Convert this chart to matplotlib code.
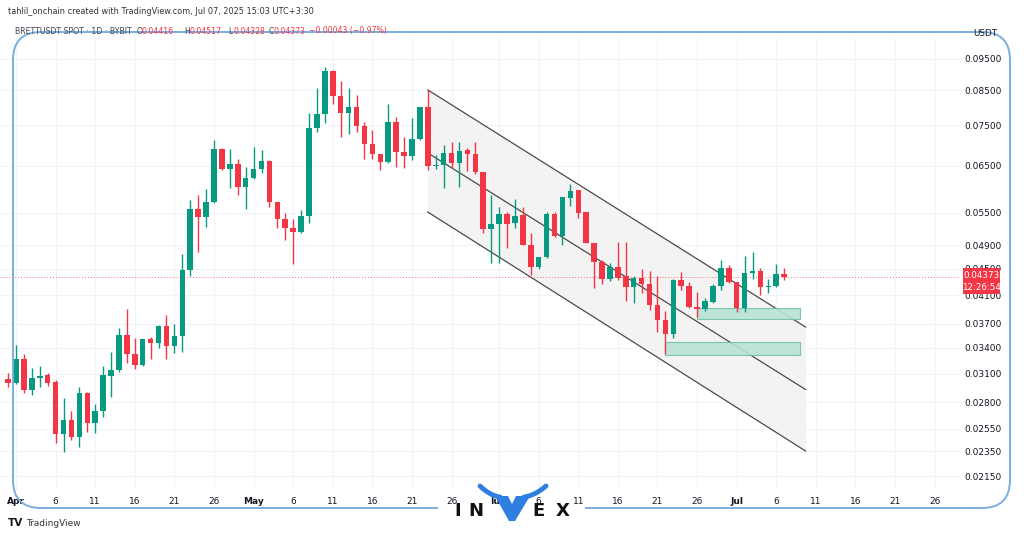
import numpy as np
import matplotlib
matplotlib.use('Agg')
import matplotlib.pyplot as plt
from matplotlib.patches import FancyBboxPatch, Rectangle, Polygon
from matplotlib.transforms import IdentityTransform

# daily candles, day 0 = Apr 1 2025, last = Jul 7
days = np.arange(-1, 98)
opens = [0.03042, 0.02999, 0.03266, 0.02926, 0.03053, 0.03086, 0.03010, 0.02501, 0.02629, 0.02474,
         0.02894, 0.02601, 0.02715, 0.03075, 0.03141, 0.03557, 0.03325, 0.03197, 0.03507, 0.03458,
         0.03673, 0.03421, 0.03545, 0.04484, 0.05571, 0.05414, 0.05711, 0.06896, 0.06422, 0.06538,
         0.06024, 0.06220, 0.06422, 0.06608, 0.05711, 0.05376, 0.05205, 0.05133, 0.05434, 0.07432,
         0.07811, 0.09103, 0.08328, 0.07839, 0.08008, 0.07486, 0.07020, 0.06775, 0.06585, 0.07593,
         0.06823, 0.06727, 0.07146, 0.08008, 0.06491, 0.06515, 0.06799, 0.06561, 0.06871, 0.06775,
         0.06354, 0.05187, 0.05281, 0.05472, 0.05300, 0.05453, 0.04901, 0.04532, 0.04696, 0.05472,
         0.05061, 0.05793, 0.05960, 0.05510, 0.04936, 0.04613, 0.04343, 0.04532, 0.04389, 0.04221,
         0.04358, 0.04266, 0.03959, 0.03753, 0.03570, 0.04327, 0.04236, 0.03931, 0.03903, 0.04002,
         0.04236, 0.04516, 0.04297, 0.03917, 0.04436, 0.04470, 0.04221, 0.04236, 0.04416]
closes = [0.02999, 0.03266, 0.02926, 0.03053, 0.03075, 0.02999, 0.02501, 0.02629, 0.02474, 0.02894,
          0.02601, 0.02715, 0.03086, 0.03141, 0.03557, 0.03325, 0.03197, 0.03507, 0.03458, 0.03673,
          0.03421, 0.03545, 0.04484, 0.05571, 0.05414, 0.05711, 0.06896, 0.06422, 0.06538, 0.06024,
          0.06220, 0.06422, 0.06608, 0.05711, 0.05376, 0.05205, 0.05133, 0.05434, 0.07432, 0.07811,
          0.09103, 0.08328, 0.07839, 0.08008, 0.07486, 0.07020, 0.06775, 0.06585, 0.07593, 0.06823,
          0.06727, 0.07146, 0.08008, 0.06491, 0.06515, 0.06799, 0.06561, 0.06847, 0.06775, 0.06354,
          0.05187, 0.05281, 0.05472, 0.05281, 0.05434, 0.04901, 0.04532, 0.04696, 0.05472, 0.05061,
          0.05813, 0.05938, 0.05491, 0.04936, 0.04613, 0.04343, 0.04532, 0.04358, 0.04221, 0.04358,
          0.04266, 0.03959, 0.03753, 0.03570, 0.04327, 0.04236, 0.03931, 0.03903, 0.04016, 0.04236,
          0.04516, 0.04297, 0.03917, 0.04436, 0.04470, 0.04221, 0.04236, 0.04420, 0.04373]
highs = [0.03108, 0.03434, 0.03325, 0.03163, 0.03186, 0.03108, 0.03031, 0.02843, 0.02715, 0.02957,
         0.02900, 0.02783, 0.03186, 0.03349, 0.03647, 0.03903, 0.03520, 0.03510, 0.03532, 0.03680,
         0.03820, 0.03700, 0.04746, 0.05752, 0.05855, 0.05981, 0.07121, 0.06920, 0.06896, 0.06655,
         0.06468, 0.06945, 0.06871, 0.06620, 0.05720, 0.05491, 0.05376, 0.05551, 0.07839, 0.08568,
         0.09234, 0.09120, 0.08784, 0.08568, 0.08357, 0.07593, 0.07380, 0.06780, 0.08094, 0.07728,
         0.07197, 0.07701, 0.08020, 0.08508, 0.06750, 0.06995, 0.07071, 0.07070, 0.06920, 0.07070,
         0.06360, 0.05855, 0.05610, 0.05510, 0.05772, 0.05610, 0.05115, 0.04700, 0.05510, 0.05510,
         0.05820, 0.06089, 0.05970, 0.05520, 0.04940, 0.04650, 0.04597, 0.04953, 0.04950, 0.04390,
         0.04500, 0.04470, 0.04389, 0.03875, 0.04340, 0.04452, 0.04300, 0.04147, 0.04060, 0.04270,
         0.04646, 0.04570, 0.04300, 0.04713, 0.04780, 0.04520, 0.04340, 0.04581, 0.04517]
lows = [0.02957, 0.02990, 0.02894, 0.02874, 0.02957, 0.02967, 0.02422, 0.02346, 0.02448, 0.02388,
        0.02519, 0.02510, 0.02657, 0.02853, 0.03119, 0.03220, 0.03152, 0.03190, 0.03266, 0.03397,
        0.03266, 0.03337, 0.03349, 0.04389, 0.04780, 0.05224, 0.05690, 0.06400, 0.06002, 0.05855,
        0.05571, 0.06200, 0.06331, 0.05610, 0.05205, 0.04989, 0.04581, 0.05115, 0.05300, 0.07330,
        0.07566, 0.08094, 0.07197, 0.07275, 0.07327, 0.06655, 0.06655, 0.06399, 0.06560, 0.06468,
        0.06445, 0.06632, 0.07130, 0.06399, 0.06420, 0.06002, 0.06445, 0.06024, 0.06377, 0.06309,
        0.05115, 0.04597, 0.04597, 0.04849, 0.05205, 0.04900, 0.04404, 0.04500, 0.04680, 0.05040,
        0.04901, 0.05631, 0.05395, 0.04930, 0.04206, 0.04266, 0.04310, 0.04327, 0.04016, 0.03987,
        0.04132, 0.03889, 0.03595, 0.03325, 0.03520, 0.04176, 0.03920, 0.03793, 0.03880, 0.03990,
        0.04176, 0.04280, 0.03861, 0.03860, 0.04340, 0.04102, 0.04130, 0.04220, 0.04328]

price_ticks = [0.095, 0.085, 0.075, 0.065, 0.055, 0.049, 0.045, 0.041, 0.037, 0.034,
               0.031, 0.028, 0.0255, 0.0235, 0.0215]
date_ticks = [0, 5, 10, 15, 20, 25, 30, 35, 40, 45, 50, 55, 61, 66, 71, 76, 81, 86,
              91, 96, 101, 106, 111, 116]
date_labels = ['Apr', '6', '11', '16', '21', '26', 'May', '6', '11', '16', '21', '26',
               'Jun', '6', '11', '16', '21', '26', 'Jul', '6', '11', '16', '21', '26']

# descending channel (start/end day, upper/mid/lower price)
chan_x = [52.0, 99.7]
chan_upper = [0.0851, 0.0366]
chan_mid = [0.0680, 0.0293]
chan_lower = [0.0551, 0.02354]
# demand zones: x0, x1, y0, y1
zones = [(86.0, 99.0, 0.03766, 0.03917), (81.9, 99.0, 0.03313, 0.03470)]
last_price = 0.04373

UP = '#089981'
DOWN = '#f23645'
W, H = 1024, 538

fig = plt.figure(figsize=(W / 100, H / 100), dpi=100)
fig.set_facecolor('white')
ax = fig.add_axes([0, 48 / H, 960 / W, 452 / H])
ax.set_yscale('log')
ax.set_xlim(-2.02, 119.2)
ax.set_ylim(0.02049, 0.10237)

# grid
for p in price_ticks:
    ax.axhline(p, color='#f0f3fa', lw=0.8, zorder=0)
for d in date_ticks:
    ax.axvline(d, color='#f0f3fa', lw=0.8, zorder=0)

# channel
ax.fill_between(chan_x, chan_upper, chan_lower, color='#f3f3f3', zorder=1, lw=0)
for line in (chan_upper, chan_mid, chan_lower):
    ax.plot(chan_x, line, color='#4a4a4a', lw=0.9, zorder=2)

for x0, x1, y0, y1 in zones:
    ax.add_patch(Rectangle((x0, y0), x1 - x0, y1 - y0, facecolor='#b9e2d4',
                           edgecolor='#6fc0a5', lw=0.8, alpha=0.9, zorder=2))

# candles
o = np.array(opens); c = np.array(closes)
hi = np.array(highs); lo = np.array(lows)
cols = np.where(c >= o, UP, DOWN)
ax.vlines(days, lo, hi, colors=cols, lw=1.0, zorder=3)
bottom = np.minimum(o, c)
height = np.maximum(np.abs(c - o), bottom * 0.004)
ax.bar(days, height, bottom=bottom, width=0.7, color=cols, zorder=4, lw=0)

# last price line
ax.axhline(last_price, color=DOWN, lw=0.7, ls=(0, (1, 2)), alpha=0.7, zorder=2)

ax.yaxis.tick_right()
ax.set_yticks(price_ticks)
ax.set_yticklabels([f'{p:.5f}' for p in price_ticks])
ax.yaxis.set_minor_locator(matplotlib.ticker.NullLocator())
ax.set_xticks(date_ticks)
ax.set_xticklabels(date_labels)
for lab, txt in zip(ax.get_xticklabels(), date_labels):
    if not txt.isdigit():
        lab.set_fontweight('bold')
ax.tick_params(axis='y', length=0, pad=3, labelsize=6.5, colors='#131722')
ax.tick_params(axis='x', length=0, pad=5, labelsize=6.5, colors='#131722')
for s in ax.spines.values():
    s.set_visible(False)


def ftext(x, y, s, **kw):
    return fig.text(x / W, 1 - y / H, s, **kw)


# header
ftext(8, 12, 'tahlil_onchain created with TradingView.com, Jul 07, 2025 15:03 UTC+3:30',
      fontsize=5.9, color='#333333', va='center')
ftext(15, 31, 'BRETTUSDT SPOT · 1D · BYBIT', fontsize=5.6, color='#434651', va='center')
for x, lab, val in [(137, 'O', '0.04416'), (184, 'H', '0.04517'), (228, 'L', '0.04328'),
                    (269, 'C', '0.04373')]:
    ftext(x, 31, lab, fontsize=5.6, color='#434651', va='center')
    ftext(x + 5, 31, val, fontsize=5.6, color=DOWN, va='center')
ftext(309, 31, '−0.00043 (−0.97%)', fontsize=5.6, color=DOWN, va='center')
ftext(985, 33, 'USDT', fontsize=6.3, color='#131722', va='center', ha='center')

# price label
fig.add_artist(Rectangle((963, H - 294), 37, 26, transform=IdentityTransform(),
                         facecolor=DOWN, edgecolor='none'))
ftext(981, 275, '0.04373', fontsize=6.3, color='white', ha='center', va='center')
ftext(981, 287, '12:26:54', fontsize=6.3, color='white', ha='center', va='center')

# blue frame, broken under the logo
fig.add_artist(FancyBboxPatch((13, H - 508), 997, 476, boxstyle='round,pad=0,rounding_size=28',
                              transform=IdentityTransform(), facecolor='none',
                              edgecolor='#7aaee0', lw=1.4))
fig.add_artist(Rectangle((438, H - 512), 147, 8, transform=IdentityTransform(),
                         facecolor='white', edgecolor='none'))

# bottom logos
ftext(8, 523, 'TV', fontsize=7.5, fontweight='bold', color='#131722', va='center')
ftext(26, 523, 'TradingView', fontsize=6.5, color='#333333', va='center')

for x, ch in [(458, 'I'), (476, 'N'), (539, 'E'), (563, 'X')]:
    ftext(x, 511, ch, fontsize=13, fontweight='bold', color='#111111', ha='center', va='center')
vx = [(495, H - 496), (508, H - 496), (512, H - 504), (516, H - 496), (530, H - 496),
      (515, H - 521), (509, H - 521)]
fig.add_artist(Polygon(vx, closed=True, transform=IdentityTransform(),
                       facecolor='#2f7fe0', edgecolor='none'))
t = np.linspace(0, 1, 30)
for sgn, reach in ((-1, 20), (1, 22)):
    hx = 512 + sgn * (12 + reach * t)
    hy = H - (497 - 3 * t - 8 * t ** 2)
    fig.add_artist(plt.Line2D(hx, hy, transform=IdentityTransform(), color='#2f7fe0',
                              lw=3.5, solid_capstyle='round'))

fig.savefig('out.png', dpi=100, facecolor='white')
